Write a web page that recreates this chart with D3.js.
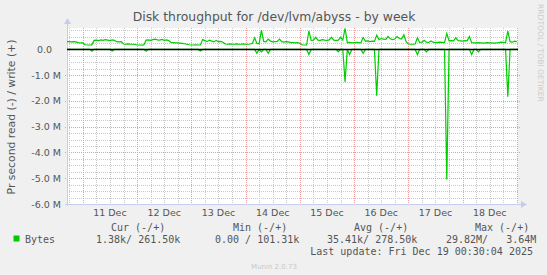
<!DOCTYPE html>
<html>
<head>
<meta charset="utf-8">
<script src="https://cdn.jsdelivr.net/npm/d3@7"></script>
<style>
  html, body { margin: 0; padding: 0; background: #f0f0f0; }
  svg { display: block; }
</style>
</head>
<body>
<div id="chart"></div>
<script>
// hourly samples, starting Dec 10 17:00 (k bytes / s)
const startTime = new Date(2025, 11, 10, 17, 0);
const endTime = new Date(2025, 11, 19, 0, 30);

const writeK = [
    300, 300, 290, 300, 290, 260, 250, 250, 180, 170, 170, 175, 350, 360, 340, 370, 350, 380, 360, 340,
    370, 350, 300, 290, 300, 210, 200, 210, 200, 200, 190, 170, 170, 165, 170, 360, 370, 350, 380, 400,
    370, 360, 390, 350, 370, 340, 270, 260, 250, 250, 240, 230, 220, 200, 180, 170, 170, 175, 170, 175,
    380, 340, 300, 360, 320, 290, 350, 300, 310, 280, 210, 200, 210, 200, 200, 210, 200, 200, 210, 200,
    200, 210, 230, 450, 230, 220, 750, 310, 290, 400, 320, 290, 300, 310, 400, 300, 280, 300, 290, 260,
    260, 250, 260, 240, 170, 170, 170, 720, 350, 360, 470, 360, 350, 380, 360, 350, 370, 470, 360, 350,
    360, 470, 360, 820, 260, 270, 250, 260, 270, 260, 250, 460, 320, 330, 300, 320, 310, 550, 380, 420,
    400, 390, 500, 410, 380, 400, 500, 420, 400, 570, 300, 210, 200, 200, 210, 450, 270, 280, 350, 280,
    270, 330, 280, 260, 270, 280, 270, 260, 620, 330, 340, 330, 450, 340, 330, 320, 340, 330, 500, 260,
    250, 250, 260, 250, 240, 250, 260, 250, 250, 240, 250, 260, 280, 270, 260, 710, 300, 280, 320, 300
];

const readK = [
    0, 0, 0, 0, 0, 0, 0, 0, 0, 0, 0, -70, 0, 0, 0, 0, 0, 0, 0, 0,
    -60, 0, 0, 0, 0, 0, 0, 0, 0, 0, 0, 0, 0, 0, 0, -70, 0, 0, 0, 0,
    0, 0, 0, 0, 0, 0, 0, 0, 0, 0, 0, 0, 0, 0, 0, 0, 0, 0, 0, -60,
    0, 0, 0, 0, 0, 0, 0, 0, 0, 0, 0, 0, 0, 0, 0, 0, 0, 0, 0, 0,
    0, 0, 0, 0, -150, 0, -100, 0, 0, -150, 0, 0, 0, 0, 0, 0, 0, 0, 0, 0,
    0, 0, 0, 0, 0, 0, 0, -200, 0, 0, 0, 0, 0, 0, 0, 0, 0, 0, 0, 0,
    -100, 0, 0, -1260, 0, -200, 0, 0, 0, 0, 0, -150, 0, 0, 0, 0, 0, -1800, 0, 0,
    0, 0, 0, 0, 0, 0, 0, 0, 0, 0, 0, 0, 0, 0, 0, -200, 0, 0, 0, -100,
    0, 0, 0, 0, 0, 0, 0, 0, -5050, 0, 0, 0, 0, 0, 0, 0, 0, 0, 0, -200,
    0, 0, -100, 0, 0, 0, 0, 0, 0, 0, 0, 0, 0, 0, 0, -1840, 0, 0, 0, 0
];

const yTicks = [0, -1e6, -2e6, -3e6, -4e6, -5e6, -6e6];
const yTickLabels = ["0.0", "-1.0 M", "-2.0 M", "-3.0 M", "-4.0 M", "-5.0 M", "-6.0 M"];

const legendHeaders = ["Cur (-/+)", "Min (-/+)", "Avg (-/+)", "Max (-/+)"];
const legendValues = ["1.38k/ 261.50k", "0.00 / 101.31k", "35.41k/ 278.50k", "29.82M/   3.64M"];

const title = "Disk throughput for /dev/lvm/abyss - by week";
const yLabel = "Pr second read (-) / write (+)";
const lastUpdate = "Last update: Fri Dec 19 00:30:04 2025";

// ------------------------------------------------------------------------------------------

const width = 547, height = 275;
const plot = { left: 67, right: 518, top: 28, bottom: 204 };
const green = "#00cc00";
const axisColor = "#c4ccf0";

const times = writeK.map((_, i) => d3.timeHour.offset(startTime, i));

const xScale = d3.scaleTime().domain([startTime, endTime]).range([plot.left, plot.right]);
const yScale = d3.scaleLinear().domain([-6e6, 0.83e6]).range([plot.bottom, plot.top]);

const svg = d3.select("#chart").append("svg")
    .attr("width", width)
    .attr("height", height)
    .style("font-family", "'DejaVu Sans', sans-serif");

svg.append("rect").attr("width", width).attr("height", height).attr("fill", "#f0f0f0");
svg.append("rect")
    .attr("x", plot.left).attr("y", plot.top)
    .attr("width", plot.right - plot.left).attr("height", plot.bottom - plot.top)
    .attr("fill", "#ffffff");

// ------------------------------------------------------------------------------------------
// grid (dotted, pixel aligned)

const minorY = d3.range(-6e6, 0.8e6, 0.25e6).filter(v => v % 1e6 !== 0);
const minorX = d3.timeHour.every(6).range(startTime, endTime).filter(d => d.getHours() !== 0);
const majorX = d3.timeDay.range(startTime, endTime);
const px = v => Math.round(v) + 0.5;

function hLines(cls, data, color, ext) {
    svg.append("g").selectAll("line")
        .data(data)
        .join("line")
        .attr("class", cls)
        .attr("x1", plot.left - ext).attr("x2", plot.right + ext)
        .attr("y1", d => px(yScale(d))).attr("y2", d => px(yScale(d)))
        .attr("stroke", color).attr("stroke-dasharray", "1,1");
}

function vLines(cls, data, color, ext) {
    svg.append("g").selectAll("line")
        .data(data)
        .join("line")
        .attr("class", cls)
        .attr("x1", d => px(xScale(d))).attr("x2", d => px(xScale(d)))
        .attr("y1", plot.top).attr("y2", plot.bottom + ext)
        .attr("stroke", color).attr("stroke-dasharray", "1,1");
}

hLines("minor-y", minorY, "#c8c8c8", 0);
vLines("minor-x", minorX, "#c8c8c8", 0);
hLines("major-y", yTicks.filter(v => v !== 0), "#ee9a9a", 2);
vLines("major-x", majorX, "#ee9a9a", 2);

// ------------------------------------------------------------------------------------------
// axes

const axes = svg.append("g").attr("class", "axes");
axes.append("line")
    .attr("x1", plot.left - 2).attr("x2", plot.right + 3)
    .attr("y1", plot.bottom + 0.5).attr("y2", plot.bottom + 0.5)
    .attr("stroke", axisColor);
axes.append("line")
    .attr("x1", plot.left + 0.5).attr("x2", plot.left + 0.5)
    .attr("y1", plot.bottom + 2).attr("y2", plot.top - 4)
    .attr("stroke", axisColor);
axes.append("path")
    .attr("d", `M${plot.right + 3},${plot.bottom - 3} L${plot.right + 9},${plot.bottom + 0.5} L${plot.right + 3},${plot.bottom + 4} Z`)
    .attr("fill", axisColor);
axes.append("path")
    .attr("d", `M${plot.left - 3},${plot.top - 4} L${plot.left + 0.5},${plot.top - 10} L${plot.left + 4},${plot.top - 4} Z`)
    .attr("fill", axisColor);

svg.append("g")
    .selectAll("text")
    .data(yTicks)
    .join("text")
    .attr("x", (d, i) => i === 0 ? 52 : 61)
    .attr("y", d => yScale(d) + 3.5)
    .attr("text-anchor", "end")
    .attr("font-size", 9.5)
    .attr("fill", "#555")
    .text((d, i) => yTickLabels[i]);

svg.append("g")
    .selectAll("text")
    .data(majorX.filter(d => d3.timeHour.offset(d, 12) < endTime))
    .join("text")
    .attr("x", d => xScale(d3.timeHour.offset(d, 12)))
    .attr("y", 216)
    .attr("text-anchor", "middle")
    .attr("font-size", 9.5)
    .attr("fill", "#555")
    .text(d3.timeFormat("%-d %b"));

// ------------------------------------------------------------------------------------------
// data lines

const valueLine = d3.line()
    .x((d, i) => xScale(times[i]))
    .y(d => yScale(d * 1000));

svg.append("path")
    .datum(readK)
    .attr("d", valueLine)
    .attr("fill", "none")
    .attr("stroke", green)
    .attr("stroke-width", 1.2);

svg.append("path")
    .datum(writeK)
    .attr("d", valueLine)
    .attr("fill", "none")
    .attr("stroke", green)
    .attr("stroke-width", 1.2);

// zero rule
svg.append("line")
    .attr("x1", plot.left).attr("x2", plot.right)
    .attr("y1", yScale(0)).attr("y2", yScale(0))
    .attr("stroke", "#000").attr("stroke-width", 1.5);

// ------------------------------------------------------------------------------------------
// texts

svg.append("text")
    .attr("x", 274).attr("y", 21)
    .attr("text-anchor", "middle")
    .attr("font-size", 12.4)
    .attr("fill", "#555")
    .text(title);

svg.append("text")
    .attr("transform", `translate(15,${(plot.top + plot.bottom) / 2 + 1}) rotate(-90)`)
    .attr("text-anchor", "middle")
    .attr("font-size", 10.8)
    .attr("fill", "#555")
    .text(yLabel);

svg.append("text")
    .attr("transform", "translate(538,4) rotate(90)")
    .attr("font-size", 7.6)
    .attr("fill", "#cccccc")
    .text("RRDTOOL / TOBI OETIKER");

// legend
const mono = "'DejaVu Sans Mono', monospace";
const headerX = [111, 233, 354, 475];
const valueX = [96, 215, 327, 446];

svg.append("g")
    .selectAll("text")
    .data(legendHeaders)
    .join("text")
    .attr("x", (d, i) => headerX[i]).attr("y", 231)
    .attr("font-family", mono).attr("font-size", 10)
    .attr("fill", "#555")
    .text(d => d);

svg.append("rect")
    .attr("x", 13.5).attr("y", 235.5).attr("width", 6).attr("height", 6)
    .attr("fill", green);

svg.append("text")
    .attr("x", 25).attr("y", 243)
    .attr("font-family", mono).attr("font-size", 10)
    .attr("fill", "#555")
    .text("Bytes");

svg.append("g")
    .selectAll("text")
    .data(legendValues)
    .join("text")
    .attr("x", (d, i) => valueX[i]).attr("y", 243)
    .attr("font-family", mono).attr("font-size", 10)
    .attr("fill", "#555")
    .attr("xml:space", "preserve")
    .style("white-space", "pre")
    .text(d => d);

svg.append("text")
    .attr("x", 533).attr("y", 255)
    .attr("text-anchor", "end")
    .attr("font-family", mono).attr("font-size", 10)
    .attr("fill", "#555")
    .text(lastUpdate);

svg.append("text")
    .attr("x", 274).attr("y", 269)
    .attr("text-anchor", "middle")
    .attr("font-size", 7)
    .attr("fill", "#c8c8c8")
    .text("Munin 2.0.73");
</script>
</body>
</html>
